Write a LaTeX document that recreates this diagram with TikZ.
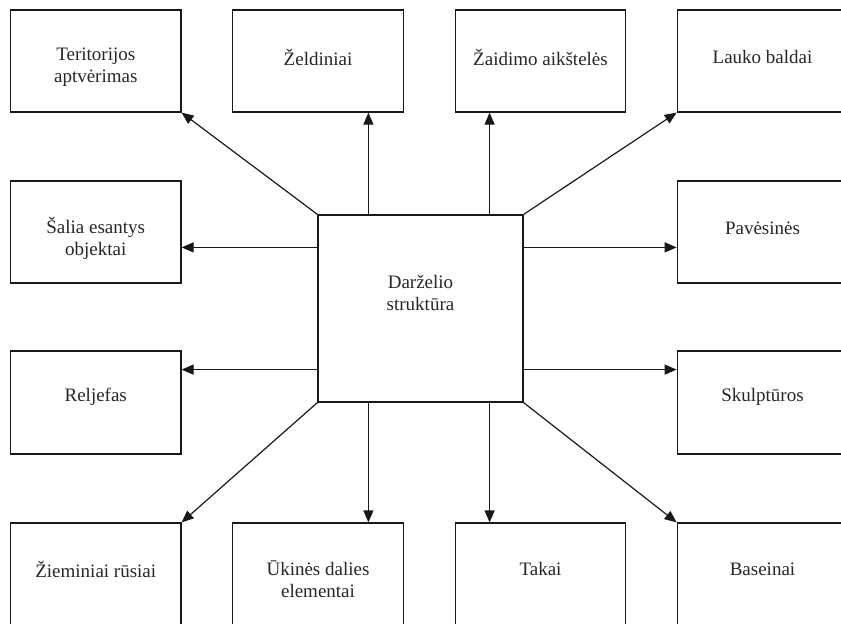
\documentclass[tikz,border=0pt]{standalone}
\usepackage{fontspec}
\setmainfont{Liberation Serif}
\usetikzlibrary{arrows.meta,calc}
\begin{document}
\begin{tikzpicture}[x=1pt,y=-1pt,
  box/.style={draw=black!90,line width=1.2pt,rectangle,minimum width=170.5pt,minimum height=102pt,inner sep=0pt},
  lbl/.style={align=center,font=\rmfamily\fontsize{19}{22}\selectfont,text=black!85,inner sep=0pt},
  arr/.style={draw=black!90,line width=1.2pt,-{Triangle[length=12pt,width=10pt]}}]
\clip (0,0) rectangle (841,624);
\fill[white] (0,0) rectangle (841,624);
% center
\node[box,minimum width=205pt,minimum height=187pt] (c) at (420.5,308.5) {};
\node[lbl] (tc) at (420.5,293) {Darželio\\struktūra};
% row 1
\node[box] (b1) at (95.75,61) {};
\node[box] (b2) at (318,61) {};
\node[box] (b3) at (540.5,61) {};
\node[box] (b4) at (762.5,61) {};
\node[lbl] (t1) at (95.75,67) {Teritorijos\\aptvėrimas};
\node[lbl] (t2) at (318,57) {Želdiniai};
\node[lbl] (t3) at (540.5,57) {Žaidimo aikštelės};
\node[lbl] (t4) at (762.5,57) {Lauko baldai};
% row 2
\node[box] (b5) at (95.75,232) {};
\node[box] (b6) at (762.5,232) {};
\node[lbl] (t5) at (95.75,238) {Šalia esantys\\objektai};
\node[lbl] (t6) at (762.5,228) {Pavėsinės};
% row 3
\node[box,minimum height=103pt] (b7) at (95.75,402.5) {};
\node[box,minimum height=103pt] (b8) at (762.5,402.5) {};
\node[lbl] (t7) at (95.75,397) {Reljefas};
\node[lbl] (t8) at (762.5,397) {Skulptūros};
% row 4
\node[box] (b9) at (95.75,574) {};
\node[box] (b10) at (318,574) {};
\node[box] (b11) at (540.5,574) {};
\node[box] (b12) at (762.5,574) {};
\node[lbl] (t9) at (95.75,569) {Žieminiai rūsiai};
\node[lbl] (t10) at (318,579) {Ūkinės dalies\\elementai};
\node[lbl] (t11) at (540.5,569) {Takai};
\node[lbl] (t12) at (762.5,569) {Baseinai};
% arrows
\draw[arr] (c.north west) -- (b1.south east);
\draw[arr] (c.north east) -- (b4.south west);
\draw[arr] (c.south west) -- (b9.north east);
\draw[arr] (c.south east) -- (b12.north west);
\draw[arr] ([xshift=51pt]c.north west) -- ([xshift=51pt]c.north west |- b2.south);
\draw[arr] ([xshift=-34pt]c.north east) -- ([xshift=-34pt]c.north east |- b3.south);
\draw[arr] ([xshift=51pt]c.south west) -- ([xshift=51pt]c.south west |- b10.north);
\draw[arr] ([xshift=-34pt]c.south east) -- ([xshift=-34pt]c.south east |- b11.north);
\draw[arr] ([yshift=-33pt]c.north west) -- ([yshift=-33pt]c.north west -| b5.east);
\draw[arr] ([yshift=-33pt]c.north east) -- ([yshift=-33pt]c.north east -| b6.west);
\draw[arr] ([yshift=33pt]c.south west) -- ([yshift=33pt]c.south west -| b7.east);
\draw[arr] ([yshift=33pt]c.south east) -- ([yshift=33pt]c.south east -| b8.west);
\end{tikzpicture}
\end{document}
